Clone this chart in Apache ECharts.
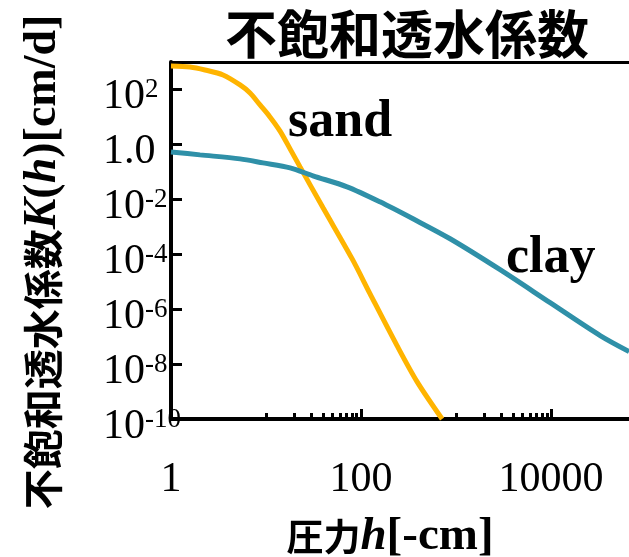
<!DOCTYPE html>
<html>
<head>
<meta charset="utf-8">
<script src="https://cdn.jsdelivr.net/npm/echarts@6/dist/echarts.min.js"></script>
<style>
  html, body { margin: 0; padding: 0; background: #fff; }
  #chart { width: 629px; height: 557px; }
</style>
</head>
<body>
<div id="chart"></div>
<script>
// Pressure head h [-cm] and unsaturated hydraulic conductivity K(h) [cm/d]
const hSand = [1, 1.585, 2.28, 3.53, 5.33, 6.79, 8.65, 11.0, 14.0, 17.9, 22.8, 39.8, 80.4, 124, 239, 388, 713];
const kSand = [716, 658, 512, 337, 146, 74.6, 27.3, 10, 3.1, 0.686, 0.152, 4.9e-3, 6.9e-5, 3.7e-6, 4.7e-8, 2.3e-9, 1e-10];
const hClay = [1, 2.02, 5.33, 9.3, 17.9, 31.2, 71.2, 158, 352, 865, 2904, 9750, 32800, 66200];
const kClay = [0.533, 0.415, 0.297, 0.212, 0.14, 0.0716, 0.0285, 8.1e-3, 1.95e-3, 3.66e-4, 2.73e-5, 1.72e-6, 1.09e-7, 2.85e-8];

// Axis ticks and labels
const xMajorTicks = [1, 100, 10000];
const xMinorTicks = [10, 20, 30, 40, 50, 60, 70, 80, 90, 1000, 2000, 3000, 4000, 5000, 6000, 7000, 8000, 9000];
const yTicks = [1e2, 1, 1e-2, 1e-4, 1e-6, 1e-8, 1e-10];

const SERIF = '"Liberation Serif", "Times New Roman", serif';
const CJK = '"Noto Sans CJK JP", sans-serif';

const pairs = (xs, ys) => xs.map((x, i) => [x, ys[i]]);

const chart = echarts.init(document.getElementById('chart'), null, { renderer: 'canvas' });

const xBase = { type: 'log', logBase: 10, min: 1, max: 66000, splitLine: { show: false } };

chart.setOption({
  animation: false,
  backgroundColor: '#fff',
  grid: { left: 171, right: 0, top: 62, bottom: 138, containLabel: false },
  xAxis: [
    Object.assign({}, xBase, {
      position: 'bottom',
      axisLine: { show: true, lineStyle: { color: '#000', width: 4 } },
      axisTick: { show: true, inside: true, length: 10, customValues: xMajorTicks, lineStyle: { color: '#000', width: 3 } },
      axisLabel: {
        customValues: xMajorTicks, margin: 40, color: '#000', fontFamily: SERIF, fontSize: 42,
        showMinLabel: true, showMaxLabel: true, hideOverlap: false,
        formatter: v => String(v)
      }
    }),
    Object.assign({}, xBase, {
      position: 'bottom',
      axisLine: { show: false },
      axisTick: { show: true, inside: true, length: 6, customValues: xMinorTicks, lineStyle: { color: '#000', width: 3 } },
      axisLabel: { show: false }
    }),
    Object.assign({}, xBase, {
      position: 'top',
      axisLine: { show: true, lineStyle: { color: '#000', width: 3 } },
      axisTick: { show: false },
      axisLabel: { show: false }
    })
  ],
  yAxis: {
    type: 'log', logBase: 10, min: 1e-10, max: 1000,
    splitLine: { show: false },
    axisLine: { show: true, lineStyle: { color: '#000', width: 4 } },
    axisTick: { show: true, inside: true, length: 11, customValues: yTicks, lineStyle: { color: '#000', width: 3 } },
    axisLabel: {
      customValues: yTicks, align: 'left', margin: 68, color: '#000',
      showMinLabel: true, showMaxLabel: true, hideOverlap: false,
      formatter: v => {
        const e = Math.round(Math.log10(v));
        return e === 0 ? '{b|1.0}' : '{b|10}{s|' + e + '}';
      },
      rich: {
        b: { fontFamily: SERIF, fontSize: 42, color: '#000', padding: [16, 0, 0, 0] },
        s: { fontFamily: SERIF, fontSize: 27, color: '#000', verticalAlign: 'top', padding: [16, 0, 0, 0] }
      }
    }
  },
  series: [
    {
      name: 'sand', type: 'line', xAxisIndex: 0, data: pairs(hSand, kSand),
      showSymbol: false, smooth: 0.3, lineStyle: { color: '#FFB400', width: 5 }
    },
    {
      name: 'clay', type: 'line', xAxisIndex: 0, data: pairs(hClay, kClay),
      showSymbol: false, smooth: 0.3, lineStyle: { color: '#2F90A8', width: 5 }
    }
  ],
  graphic: [
    {
      type: 'text', x: 407, y: 34,
      style: { text: '不飽和透水係数', fill: '#000', fontFamily: CJK, fontWeight: 'bold', fontSize: 52, align: 'center', verticalAlign: 'middle' }
    },
    {
      type: 'text', x: 288, y: 123,
      style: { text: 'sand', fill: '#000', fontFamily: SERIF, fontWeight: 'bold', fontSize: 52, align: 'left', verticalAlign: 'middle' }
    },
    {
      type: 'text', x: 506, y: 259,
      style: { text: 'clay', fill: '#000', fontFamily: SERIF, fontWeight: 'bold', fontSize: 52, align: 'left', verticalAlign: 'middle' }
    },
    {
      type: 'text', x: 390, y: 537,
      style: {
        text: '{c|圧力}{i|h}{l|[-cm]}', align: 'center', verticalAlign: 'middle',
        rich: {
          c: { fontFamily: CJK, fontWeight: 'bold', fontSize: 37, fill: '#000' },
          i: { fontFamily: SERIF, fontWeight: 'bold', fontStyle: 'italic', fontSize: 47, fill: '#000' },
          l: { fontFamily: SERIF, fontWeight: 'bold', fontSize: 47, fill: '#000' }
        }
      }
    },
    {
      type: 'text', x: 43, y: 262, rotation: Math.PI / 2,
      style: {
        text: '{c|不飽和透水係数}{i|K}{l|(}{i|h}{l|)[cm/d]}', align: 'center', verticalAlign: 'middle',
        rich: {
          c: { fontFamily: CJK, fontWeight: 'bold', fontSize: 40, fill: '#000' },
          i: { fontFamily: SERIF, fontWeight: 'bold', fontStyle: 'italic', fontSize: 46, fill: '#000' },
          l: { fontFamily: SERIF, fontWeight: 'bold', fontSize: 46, fill: '#000' }
        }
      }
    }
  ]
});
</script>
</body>
</html>
